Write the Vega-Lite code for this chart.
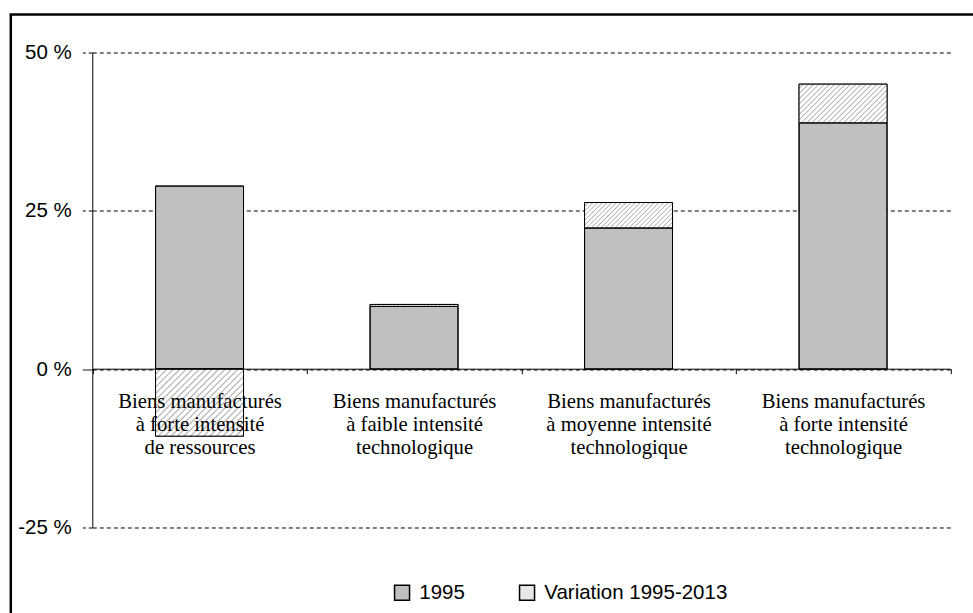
{
  "$schema": "https://vega.github.io/schema/vega-lite/v6.json",
  "autosize": "none",
  "padding": {"left": 10.8, "top": 14.5, "right": 0, "bottom": 0},
  "width": 965,
  "height": 601,
  "background": "white",
  "config": {"view": {"stroke": "black", "strokeWidth": 2.5, "fill": "white"}},
  "params": [
    {"name": "hatch", "value": [
      {"offset": 0, "color": "#ffffff"}, {"offset": 0.0229, "color": "#ffffff"}, {"offset": 0.0333, "color": "#aaaaaa"},
      {"offset": 0.0417, "color": "#ffffff"}, {"offset": 0.0646, "color": "#ffffff"}, {"offset": 0.075, "color": "#aaaaaa"},
      {"offset": 0.0833, "color": "#ffffff"}, {"offset": 0.1063, "color": "#ffffff"}, {"offset": 0.1167, "color": "#aaaaaa"},
      {"offset": 0.125, "color": "#ffffff"}, {"offset": 0.1479, "color": "#ffffff"}, {"offset": 0.1583, "color": "#aaaaaa"},
      {"offset": 0.1667, "color": "#ffffff"}, {"offset": 0.1896, "color": "#ffffff"}, {"offset": 0.2, "color": "#aaaaaa"},
      {"offset": 0.2083, "color": "#ffffff"}, {"offset": 0.2313, "color": "#ffffff"}, {"offset": 0.2417, "color": "#aaaaaa"},
      {"offset": 0.25, "color": "#ffffff"}, {"offset": 0.2729, "color": "#ffffff"}, {"offset": 0.2833, "color": "#aaaaaa"},
      {"offset": 0.2917, "color": "#ffffff"}, {"offset": 0.3146, "color": "#ffffff"}, {"offset": 0.325, "color": "#aaaaaa"},
      {"offset": 0.3333, "color": "#ffffff"}, {"offset": 0.3563, "color": "#ffffff"}, {"offset": 0.3667, "color": "#aaaaaa"},
      {"offset": 0.375, "color": "#ffffff"}, {"offset": 0.3979, "color": "#ffffff"}, {"offset": 0.4083, "color": "#aaaaaa"},
      {"offset": 0.4167, "color": "#ffffff"}, {"offset": 0.4396, "color": "#ffffff"}, {"offset": 0.45, "color": "#aaaaaa"},
      {"offset": 0.4583, "color": "#ffffff"}, {"offset": 0.4813, "color": "#ffffff"}, {"offset": 0.4917, "color": "#aaaaaa"},
      {"offset": 0.5, "color": "#ffffff"}, {"offset": 0.5229, "color": "#ffffff"}, {"offset": 0.5333, "color": "#aaaaaa"},
      {"offset": 0.5417, "color": "#ffffff"}, {"offset": 0.5646, "color": "#ffffff"}, {"offset": 0.575, "color": "#aaaaaa"},
      {"offset": 0.5833, "color": "#ffffff"}, {"offset": 0.6063, "color": "#ffffff"}, {"offset": 0.6167, "color": "#aaaaaa"},
      {"offset": 0.625, "color": "#ffffff"}, {"offset": 0.6479, "color": "#ffffff"}, {"offset": 0.6583, "color": "#aaaaaa"},
      {"offset": 0.6667, "color": "#ffffff"}, {"offset": 0.6896, "color": "#ffffff"}, {"offset": 0.7, "color": "#aaaaaa"},
      {"offset": 0.7083, "color": "#ffffff"}, {"offset": 0.7313, "color": "#ffffff"}, {"offset": 0.7417, "color": "#aaaaaa"},
      {"offset": 0.75, "color": "#ffffff"}, {"offset": 0.7729, "color": "#ffffff"}, {"offset": 0.7833, "color": "#aaaaaa"},
      {"offset": 0.7917, "color": "#ffffff"}, {"offset": 0.8146, "color": "#ffffff"}, {"offset": 0.825, "color": "#aaaaaa"},
      {"offset": 0.8333, "color": "#ffffff"}, {"offset": 0.8563, "color": "#ffffff"}, {"offset": 0.8667, "color": "#aaaaaa"},
      {"offset": 0.875, "color": "#ffffff"}, {"offset": 0.8979, "color": "#ffffff"}, {"offset": 0.9083, "color": "#aaaaaa"},
      {"offset": 0.9167, "color": "#ffffff"}, {"offset": 0.9396, "color": "#ffffff"}, {"offset": 0.95, "color": "#aaaaaa"},
      {"offset": 0.9583, "color": "#ffffff"}, {"offset": 0.9813, "color": "#ffffff"}, {"offset": 0.9917, "color": "#aaaaaa"},
      {"offset": 1, "color": "#ffffff"}
    ]}
  ],
  "data": {"values": [
    {"categorie": "Biens manufacturés à forte intensité de ressources", "serie": "1995", "valeur": 28.9},
    {"categorie": "Biens manufacturés à forte intensité de ressources", "serie": "Variation 1995-2013", "valeur": -10.6},
    {"categorie": "Biens manufacturés à faible intensité technologique", "serie": "1995", "valeur": 9.9},
    {"categorie": "Biens manufacturés à faible intensité technologique", "serie": "Variation 1995-2013", "valeur": 0.3},
    {"categorie": "Biens manufacturés à moyenne intensité technologique", "serie": "1995", "valeur": 22.3},
    {"categorie": "Biens manufacturés à moyenne intensité technologique", "serie": "Variation 1995-2013", "valeur": 4.0},
    {"categorie": "Biens manufacturés à forte intensité technologique", "serie": "1995", "valeur": 38.9},
    {"categorie": "Biens manufacturés à forte intensité technologique", "serie": "Variation 1995-2013", "valeur": 6.1}
  ]},
  "encoding": {
    "x": {
      "field": "categorie", "type": "nominal", "sort": null,
      "scale": {"range": [81.5, 939.5], "paddingInner": 0, "paddingOuter": 0},
      "axis": {
        "title": null, "orient": "bottom", "offset": -246.8, "zindex": 1,
        "domainColor": "black", "domainWidth": 1,
        "tickBand": "extent", "tickColor": "black", "tickSize": 5,
        "labelAngle": 0, "labelFont": "Liberation Serif", "labelFontSize": 20.7,
        "labelColor": "black", "labelLineHeight": 23, "labelPadding": 18,
        "labelBaseline": "top", "labelLimit": 0, "grid": false,
        "labelExpr": "split(replace(replace(replace(datum.label, ' à ', '|à '), ' de ', '|de '), ' technologique', '|technologique'), '|')"
      }
    },
    "y": {
      "field": "valeur", "type": "quantitative", "stack": "zero",
      "scale": {"domain": [-25, 50], "range": [512.8, 38], "nice": false, "zero": false},
      "axis": {
        "title": null, "offset": -81.5, "values": [-25, 0, 25, 50],
        "labelExpr": "datum.value + ' %'",
        "labelFont": "Liberation Sans", "labelFontSize": 20.5, "labelColor": "black",
        "labelPadding": 11, "tickSize": 10, "tickColor": "black",
        "tickDash": {"condition": {"test": "datum.value === 0", "value": [1, 0]}, "value": [4, 3]},
        "domainColor": "black", "domainWidth": 1,
        "grid": true, "gridColor": "black", "gridDash": [4, 3], "gridOpacity": 1, "gridWidth": 1,
        "zindex": 0
      }
    },
    "order": {"field": "serie", "type": "nominal", "sort": "ascending"}
  },
  "layer": [
    {
      "mark": {"type": "bar", "width": {"band": 0.41}, "stroke": "black", "strokeWidth": 1},
      "encoding": {
        "fill": {
          "field": "serie", "type": "nominal",
          "scale": {"domain": ["1995", "Variation 1995-2013"], "range": ["#c0c0c0", "#e8e8e8"]},
          "legend": {
            "title": null, "orient": "none", "legendX": 381, "legendY": 568,
            "direction": "horizontal", "symbolType": "square", "symbolSize": 225,
            "symbolStrokeColor": "black", "symbolStrokeWidth": 1.5, "symbolOpacity": 1,
            "labelFont": "Liberation Sans", "labelFontSize": 20.5, "labelColor": "black",
            "labelOffset": 7, "columnPadding": 50, "labelLimit": 400
          }
        }
      }
    },
    {
      "mark": {
        "type": "bar", "width": {"band": 0.41}, "stroke": "black", "strokeWidth": 1,
        "fill": {"expr": "datum.serie === '1995' ? 'transparent' : {gradient: 'linear', x1: 0, y1: 0, x2: 88 * (88 + abs(scale('y', datum.valeur_end) - scale('y', datum.valeur_start))) / (7744 + pow(scale('y', datum.valeur_end) - scale('y', datum.valeur_start), 2)), y2: abs(scale('y', datum.valeur_end) - scale('y', datum.valeur_start)) * (88 + abs(scale('y', datum.valeur_end) - scale('y', datum.valeur_start))) / (7744 + pow(scale('y', datum.valeur_end) - scale('y', datum.valeur_start), 2)), stops: hatch}"}
      },
      "encoding": {"detail": {"field": "serie"}}
    }
  ]
}
